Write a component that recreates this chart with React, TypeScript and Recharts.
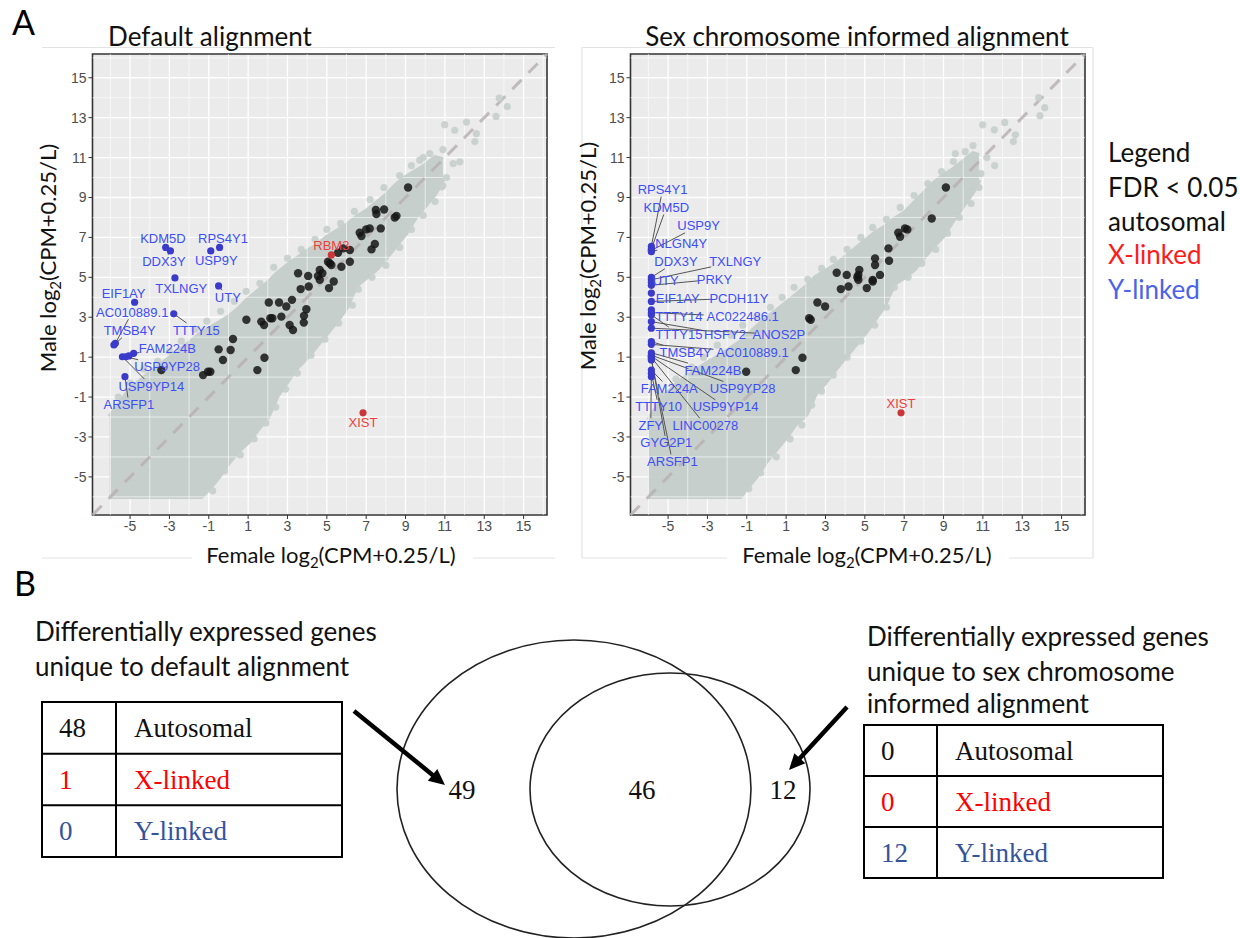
import React from 'react';
import { ComposedChart, Area, Scatter, XAxis, YAxis, CartesianGrid, ReferenceLine, ReferenceArea } from 'recharts';

// ---------- axes ----------
const DOMAIN: [number, number] = [-6.91, 16.19];
const majorTicks = [-5, -3, -1, 1, 3, 5, 7, 9, 11, 13, 15];
const minorTicks = [-6, -4, -2, 0, 2, 4, 6, 8, 10, 12, 14, 16];

// ---------- panel A left: default alignment ----------
const defaultCloudX = [-6.04, -5.5, -5.0, -4.5, -4.0, -3.0, -2.0, -1.38, -1.0, -0.5, 0.0, 0.5, 1.0, 1.5, 2.0, 2.5, 3.0, 3.5, 4.0, 4.5, 5.0, 5.5, 6.0, 6.5, 7.0, 7.5, 8.0, 8.5, 9.0, 9.5, 10.0, 10.5, 10.9];
const defaultCloudLow = [-5.98, -5.98, -5.98, -5.98, -5.98, -5.98, -5.98, -5.98, -5.6, -5.0, -4.3, -3.7, -3.25, -2.6, -2.0, -0.9, -0.2, 0.5, 1.0, 1.6, 2.2, 2.8, 3.5, 4.6, 5.0, 5.4, 5.95, 6.6, 7.2, 8.0, 8.6, 9.2, 9.9];
const defaultCloudHigh = [-2.0, -1.3, -0.6, -0.2, 0.2, 0.95, 1.7, 2.2, 2.4, 2.7, 3.0, 3.4, 3.9, 4.3, 4.7, 5.2, 5.6, 5.95, 6.3, 6.6, 7.0, 7.3, 7.6, 8.0, 8.3, 8.7, 9.1, 9.6, 10.0, 10.3, 10.6, 11.0, 10.9];
const defaultFringe: [number, number][] = [
  [-5.6, -1.0], [-5.0, -0.3], [-4.3, 0.4], [-3.6, 0.8], [-3.0, 1.3], [-2.4, 1.8], [-1.7, 2.4], [-1.1, 2.8], [-0.4, 3.3], [0.3, 3.8], [0.9, 4.3], [1.6, 4.7], [2.3, 5.5], [3.0, 5.95], [3.7, 6.4], [4.4, 6.9], [5.0, 7.4], [5.7, 7.7], [6.4, 8.3], [7.2, 8.9], [7.9, 9.5], [8.7, 10.1], [9.3, 10.6], [9.9, 11.0],
  [-0.8, -5.7], [-0.2, -4.7], [0.6, -3.9], [1.3, -3.1], [1.9, -2.3], [2.4, -1.5], [2.9, -0.6], [3.5, 0.2], [4.2, 1.1], [4.9, 1.9], [5.6, 2.7], [6.3, 3.6], [6.6, 4.4], [7.3, 5.0], [8.0, 5.6], [8.7, 6.5], [9.3, 7.4], [9.9, 8.1], [10.5, 8.8], [10.9, 9.6],
  [10.99, 12.65], [11.5, 12.37], [12.1, 12.78], [12.6, 12.2], [12.52, 11.8], [10.23, 11.2], [10.9, 11.4], [11.08, 10.0], [11.76, 10.78], [11.42, 10.7], [10.83, 9.53], [9.72, 10.87], [13.76, 13.98], [14.17, 13.56], [13.6, 13.06],
];
const defaultAutosomal: [number, number][] = [
  [9.13, 9.5], [7.49, 8.37], [7.91, 8.4], [7.52, 8.17], [8.45, 8.0], [8.54, 8.08], [6.67, 7.23], [7.0, 7.4], [7.18, 7.45], [7.74, 7.45], [6.76, 7.07], [6.17, 6.37], [5.83, 6.45], [5.57, 6.23], [5.15, 5.7], [5.06, 5.78], [5.23, 5.62], [4.64, 5.37], [4.77, 5.2], [4.55, 5.07], [5.74, 5.53], [6.17, 5.78], [7.44, 6.67], [7.27, 6.4], [3.54, 5.2], [4.05, 5.07],
  [3.67, 4.41], [4.08, 4.54], [4.64, 4.88], [5.35, 4.79], [5.11, 4.46], [2.05, 3.74], [2.57, 3.74], [3.23, 3.87], [2.94, 3.54], [0.91, 2.87], [1.67, 2.78], [1.81, 2.61], [2.13, 2.95], [2.23, 2.95], [2.69, 3.03], [3.11, 2.61], [3.28, 2.36], [3.84, 3.07], [3.96, 3.4], [3.83, 2.73], [0.23, 1.91], [-0.5, 1.39], [0.11, 1.36], [-0.28, 0.86], [1.83, 0.97], [1.47, 0.35], [-1.29, 0.1], [-1.04, 0.27], [-0.92, 0.27], [-3.41, 0.35],
];
const defaultXLinked = [
  { name: 'RBM3', x: 5.23, y: 6.12, lx: 5.23, ly: 6.57 },
  { name: 'XIST', x: 6.84, y: -1.79, lx: 6.84, ly: -2.29 },
];
const defaultYLinked = [
  { name: 'KDM5D', x: -3.19, y: 6.5, lx: -3.33, ly: 6.95 },
  { name: 'DDX3Y', x: -2.95, y: 6.32, lx: -3.28, ly: 5.78 },
  { name: 'RPS4Y1', x: -0.45, y: 6.5, lx: -0.28, ly: 6.95 },
  { name: 'USP9Y', x: -0.9, y: 6.32, lx: -0.62, ly: 5.83 },
  { name: 'TXLNGY', x: -2.72, y: 4.97, lx: -2.4, ly: 4.46 },
  { name: 'UTY', x: -0.5, y: 4.57, lx: -0.03, ly: 4.0 },
  { name: 'EIF1AY', x: -4.77, y: 3.75, lx: -5.33, ly: 4.17 },
  { name: 'AC010889.1', x: -5.75, y: 1.69, lx: -4.89, ly: 3.25 },
  { name: 'TTTY15', x: -2.78, y: 3.17, lx: -1.63, ly: 2.36 },
  { name: 'TMSB4Y', x: -5.82, y: 1.61, lx: -5.02, ly: 2.33 },
  { name: 'FAM224B', x: -4.82, y: 1.19, lx: -3.11, ly: 1.44 },
  { name: 'USP9YP28', x: -5.22, y: 1.02, lx: -3.12, ly: 0.52 },
  { name: 'USP9YP14', x: -5.39, y: 1.02, lx: -3.92, ly: -0.45 },
  { name: 'ARSFP1', x: -5.26, y: 0.02, lx: -5.06, ly: -1.37 },
  { name: '', x: -5.06, y: 1.06, lx: -5.06, ly: 1.06 },
];

// ---------- panel A right: sex chromosome informed ----------
const informedCloudX = [-5.99, -5.5, -5.0, -4.5, -4.0, -3.0, -2.0, -1.33, -1.0, -0.5, 0.0, 0.5, 1.0, 1.5, 2.0, 2.5, 3.0, 3.5, 4.0, 4.5, 5.0, 5.5, 6.0, 6.5, 7.0, 7.5, 8.0, 8.5, 9.0, 9.5, 10.0, 10.5, 10.8];
const informedCloudLow = [-5.98, -5.98, -5.98, -5.98, -5.98, -5.98, -5.98, -5.98, -5.55, -4.95, -4.2, -3.6, -3.0, -2.3, -1.9, -0.8, -0.25, 0.4, 1.0, 1.6, 2.2, 2.9, 3.6, 4.7, 5.0, 5.4, 6.0, 6.6, 7.1, 7.9, 8.6, 9.3, 9.9];
const informedCloudHigh = [-2.16, -1.4, -0.8, -0.3, 0.05, 0.7, 1.3, 1.75, 2.05, 2.5, 2.95, 3.3, 3.7, 4.1, 4.5, 5.0, 5.3, 5.6, 6.0, 6.4, 6.8, 7.2, 7.5, 7.9, 8.2, 8.7, 9.2, 9.7, 10.1, 10.4, 10.8, 11.2, 11.1];
const informedFringe: [number, number][] = [
  [-5.3, -0.9], [-4.6, -0.1], [-3.8, 0.5], [-3.2, 1.0], [-2.5, 1.6], [-1.8, 2.1], [-1.2, 2.6], [-0.5, 3.0], [0.2, 3.5], [0.8, 4.0], [1.4, 4.5], [2.1, 4.9], [2.8, 5.45], [3.4, 5.9], [4.1, 6.4], [4.8, 7.0], [5.4, 7.5], [6.1, 7.9], [6.8, 8.5], [7.5, 9.1], [8.2, 9.7], [8.9, 10.3], [9.5, 10.8], [10.1, 11.3],
  [-0.9, -5.6], [-0.3, -4.8], [0.5, -4.0], [1.2, -3.1], [1.8, -2.4], [2.3, -1.4], [2.8, -0.7], [3.4, 0.1], [4.1, 1.0], [4.8, 1.8], [5.5, 2.6], [6.1, 3.5], [6.5, 4.5], [7.2, 5.0], [7.9, 5.7], [8.6, 6.4], [9.2, 7.2], [9.8, 8.0], [10.4, 8.7], [10.8, 9.5],
  [10.99, 12.64], [11.58, 12.39], [12.11, 12.76], [12.65, 12.14], [12.55, 11.8], [13.83, 14.0], [14.14, 13.5], [13.9, 13.1], [10.5, 11.6], [11.2, 11.0], [10.9, 10.2], [11.6, 10.6], [10.2, 9.7], [9.6, 11.2],
];
const informedAutosomal: [number, number][] = [
  [9.12, 9.5], [8.4, 7.95], [7.04, 7.45], [7.16, 7.4], [6.7, 7.23], [6.79, 7.03], [6.2, 6.45], [6.23, 5.83], [5.52, 5.95], [5.52, 5.62], [5.77, 5.12], [4.72, 5.37], [4.67, 5.12], [4.62, 5.0], [4.08, 5.12], [3.57, 5.23], [5.4, 4.87],
  [3.78, 4.41], [4.17, 4.54], [4.67, 4.88], [5.4, 4.79], [5.1, 4.46], [2.59, 3.74], [2.98, 3.54], [2.17, 2.95], [2.25, 2.87], [1.83, 0.97], [1.49, 0.35], [-1.03, 0.27],
];
const informedXLinked = [
  { name: 'XIST', x: 6.84, y: -1.79, lx: 6.84, ly: -1.3 },
];
const informedYLinked = [
  { name: 'RPS4Y1', x: -5.85, y: 6.55, lx: -5.28, ly: 9.4 },
  { name: 'KDM5D', x: -5.85, y: 6.42, lx: -5.09, ly: 8.5 },
  { name: 'USP9Y', x: -5.85, y: 6.35, lx: -3.45, ly: 7.58 },
  { name: 'NLGN4Y', x: -5.85, y: 6.28, lx: -4.33, ly: 6.7 },
  { name: 'DDX3Y', x: -5.85, y: 5.0, lx: -4.6, ly: 5.78 },
  { name: 'TXLNGY', x: -5.85, y: 4.88, lx: -1.59, ly: 5.78 },
  { name: 'UTY', x: -5.85, y: 4.75, lx: -5.12, ly: 4.85 },
  { name: 'PRKY', x: -5.85, y: 4.6, lx: -2.64, ly: 4.9 },
  { name: 'EIF1AY', x: -5.85, y: 4.21, lx: -4.51, ly: 3.95 },
  { name: 'PCDH11Y', x: -5.85, y: 3.79, lx: -1.4, ly: 3.95 },
  { name: 'TTTY14', x: -5.85, y: 3.37, lx: -4.45, ly: 3.03 },
  { name: 'AC022486.1', x: -5.85, y: 3.23, lx: -1.21, ly: 3.03 },
  { name: 'TTTY15', x: -5.85, y: 3.12, lx: -4.45, ly: 2.15 },
  { name: 'HSFY2', x: -5.85, y: 2.78, lx: -2.11, ly: 2.15 },
  { name: 'ANOS2P', x: -5.85, y: 2.45, lx: 0.63, ly: 2.15 },
  { name: 'TMSB4Y', x: -5.85, y: 1.78, lx: -4.11, ly: 1.24 },
  { name: 'AC010889.1', x: -5.85, y: 1.64, lx: -0.71, ly: 1.24 },
  { name: 'FAM224B', x: -5.85, y: 1.22, lx: -2.72, ly: 0.35 },
  { name: 'FAM224A', x: -5.85, y: 0.35, lx: -4.94, ly: -0.57 },
  { name: 'USP9YP28', x: -5.85, y: 1.1, lx: -1.21, ly: -0.57 },
  { name: 'TTTY10', x: -5.85, y: 0.19, lx: -5.48, ly: -1.49 },
  { name: 'USP9YP14', x: -5.85, y: 1.05, lx: -2.08, ly: -1.49 },
  { name: 'ZFY', x: -5.85, y: 0.02, lx: -5.88, ly: -2.41 },
  { name: 'LINC00278', x: -5.85, y: 0.99, lx: -3.11, ly: -2.41 },
  { name: 'GYG2P1', x: -5.85, y: 0.92, lx: -5.09, ly: -3.3 },
  { name: 'ARSFP1', x: -5.85, y: 0.86, lx: -4.78, ly: -4.22 },
];

// ---------- legend ----------
const legendLines = ['Legend', 'FDR < 0.05', 'autosomal', 'X-linked', 'Y-linked'];
const legendColors = ['#111', '#111', '#111', '#ff1a1a', '#4a63e8'];

// ---------- panel B ----------
const vennCounts = [49, 46, 12];
const tableCategories = ['Autosomal', 'X-linked', 'Y-linked'];
const defaultUniqueCounts = [48, 1, 0];
const informedUniqueCounts = [0, 0, 12];
const tableColors = ['#111', '#ff0000', '#34539b'];

// ---------- styling ----------
const SANS = 'Lato, "Open Sans", sans-serif';
const LABEL_FONT = '"Liberation Sans", Arial, sans-serif';
const SERIF = '"Liberation Serif", "Times New Roman", serif';
const CLOUD = '#c6cfcc';
const PX = 19.7;
const PY = 19.95;

type Gene = { name: string; x: number; y: number; lx: number; ly: number };

function segmentFor(g: Gene) {
  if (!g.name) return null;
  const hw = g.name.length * 3.75 + 1.5;
  const hh = 7;
  const vx = (g.x - g.lx) * PX;
  const vy = (g.y - g.ly) * PY;
  const tx = vx === 0 ? Infinity : hw / Math.abs(vx);
  const ty = vy === 0 ? Infinity : hh / Math.abs(vy);
  const t = Math.min(tx, ty);
  if (t >= 0.85) return null;
  return [
    { x: g.lx + (vx * t) / PX, y: g.ly + (vy * t) / PY },
    { x: g.x, y: g.y },
  ];
}

const dot = (r: number, fill: string, opacity = 1) => (p: any) =>
  p.cx == null ? <g /> : <circle cx={p.cx} cy={p.cy} r={r} fill={fill} fillOpacity={opacity} />;

const labelShape = (color: string) => (p: any) =>
  p.cx == null || !p.payload.name ? <g /> : (
    <text x={p.cx} y={p.cy} textAnchor="middle" dominantBaseline="central" fontFamily={LABEL_FONT} fontSize={13} fill={color}>
      {p.payload.name}
    </text>
  );

function Panel(props: {
  cloudX: number[]; cloudLow: number[]; cloudHigh: number[];
  fringe: [number, number][]; autosomal: [number, number][];
  xLinked: Gene[]; yLinked: Gene[];
  width: number; marginLeft: number; marginRight: number;
}) {
  const cloud = props.cloudX.map((x, i) => ({ x, range: [props.cloudLow[i], props.cloudHigh[i]] }));
  const fringe = props.fringe.map(([x, y]) => ({ x, y }));
  const auto = props.autosomal.map(([x, y]) => ({ x, y }));
  const yLabels = props.yLinked.map((g) => ({ x: g.lx, y: g.ly, name: g.name }));
  const xLabels = props.xLinked.map((g) => ({ x: g.lx, y: g.ly, name: g.name }));
  const segs = [...props.yLinked, ...props.xLinked].map(segmentFor).filter(Boolean) as any[];
  return (
    <ComposedChart
      width={props.width}
      height={560}
      data={cloud}
      margin={{ top: 54, right: props.marginRight, bottom: 15, left: props.marginLeft }}
    >
      <CartesianGrid fill="#ebebeb" stroke="#ffffff" strokeWidth={1.3} />
      <XAxis
        type="number" dataKey="x" domain={DOMAIN} ticks={majorTicks} allowDataOverflow
        height={30} axisLine={false} tickLine={{ stroke: '#333' }} tickSize={4}
        tick={{ fill: '#4d4d4d', fontSize: 14, fontFamily: LABEL_FONT }} interval={0}
      />
      <YAxis
        type="number" dataKey="y" domain={DOMAIN} ticks={majorTicks} allowDataOverflow
        width={40} axisLine={false} tickLine={{ stroke: '#333' }} tickSize={4}
        tick={{ fill: '#4d4d4d', fontSize: 14, fontFamily: LABEL_FONT }} interval={0}
      />
      {minorTicks.map((v) => (
        <ReferenceLine key={'mx' + v} x={v} stroke="#ffffff" strokeWidth={0.6} />
      ))}
      {minorTicks.map((v) => (
        <ReferenceLine key={'my' + v} y={v} stroke="#ffffff" strokeWidth={0.6} />
      ))}
      <Area type="linear" dataKey="range" stroke={CLOUD} strokeWidth={5} strokeLinejoin="round" fill={CLOUD} fillOpacity={1} isAnimationActive={false} dot={false} activeDot={false} />
      <Scatter data={fringe} shape={dot(3.6, CLOUD, 0.9)} isAnimationActive={false} />
      <ReferenceLine
        segment={[{ x: DOMAIN[0], y: DOMAIN[0] }, { x: DOMAIN[1], y: DOMAIN[1] }]}
        stroke="#b8b2b2" strokeOpacity={0.85} strokeWidth={3} strokeDasharray="13 10"
      />
      {segs.map((s, i) => (
        <ReferenceLine key={'s' + i} segment={s} stroke="#555" strokeWidth={1} />
      ))}
      <Scatter data={auto} shape={dot(4.2, '#151515', 0.85)} isAnimationActive={false} />
      <Scatter data={props.xLinked} shape={dot(3.6, '#c9373a')} isAnimationActive={false} />
      <Scatter data={props.yLinked} shape={dot(3.6, '#3a3acb')} isAnimationActive={false} />
      <Scatter data={yLabels} shape={labelShape('#3d4ef7')} isAnimationActive={false} />
      <Scatter data={xLabels} shape={labelShape('#f23d3d')} isAnimationActive={false} />
      <ReferenceArea x1={DOMAIN[0]} x2={DOMAIN[1]} y1={DOMAIN[0]} y2={DOMAIN[1]} fill="none" fillOpacity={0} stroke="#333" strokeWidth={1.6} />
    </ComposedChart>
  );
}

function Arrow({ x1, y1, x2, y2 }: { x1: number; y1: number; x2: number; y2: number }) {
  const len = Math.hypot(x2 - x1, y2 - y1);
  const ux = (x2 - x1) / len;
  const uy = (y2 - y1) / len;
  const headLen = 16;
  const headHalf = 7.5;
  const bx = x2 - ux * headLen;
  const by = y2 - uy * headLen;
  const pts = `${x2},${y2} ${bx - uy * headHalf},${by + ux * headHalf} ${bx + uy * headHalf},${by - ux * headHalf}`;
  return (
    <g>
      <line x1={x1} y1={y1} x2={bx + ux * 2} y2={by + uy * 2} stroke="#000" strokeWidth={4.5} />
      <polygon points={pts} fill="#000" />
    </g>
  );
}

export default function App() {
  const abs = (l: number, t: number): React.CSSProperties => ({ position: 'absolute', left: l, top: t });
  return (
    <div style={{ position: 'absolute', left: 0, top: 0, width: 1240, height: 938, background: '#fff', overflow: 'hidden' }}>
      <div style={abs(0, 0)}>
        <Panel
          cloudX={defaultCloudX} cloudLow={defaultCloudLow} cloudHigh={defaultCloudHigh}
          fringe={defaultFringe} autosomal={defaultAutosomal}
          xLinked={defaultXLinked} yLinked={defaultYLinked}
          width={560} marginLeft={52.5} marginRight={13}
        />
      </div>
      <div style={abs(580, 0)}>
        <Panel
          cloudX={informedCloudX} cloudLow={informedCloudLow} cloudHigh={informedCloudHigh}
          fringe={informedFringe} autosomal={informedAutosomal}
          xLinked={informedXLinked} yLinked={informedYLinked}
          width={520} marginLeft={10.5} marginRight={15}
        />
      </div>
      <svg width={1240} height={938} style={{ position: 'absolute', left: 0, top: 0, pointerEvents: 'none' }}>
        {/* frames */}
        <g stroke="#e3e3e3" strokeWidth={1.2} fill="none">
          <line x1={42} y1={47.5} x2={555} y2={47.5} />
          <line x1={42} y1={558} x2={192} y2={558} />
          <line x1={473} y1={558} x2={555} y2={558} />
          <line x1={582} y1={47.5} x2={1093} y2={47.5} />
          <line x1={582} y1={47.5} x2={582} y2={558} />
          <line x1={1093} y1={47.5} x2={1093} y2={558} />
          <line x1={582} y1={558} x2={727} y2={558} />
          <line x1={1009} y1={558} x2={1093} y2={558} />
        </g>
        {/* panel letters */}
        <text x={12} y={35} fontFamily={SANS} fontSize={34} fill="#000">A</text>
        <text x={14} y={596} fontFamily={SANS} fontSize={34} fill="#000">B</text>
        {/* titles */}
        <text x={210} y={46} textAnchor="middle" fontFamily={SANS} fontSize={26} fill="#111">Default alignment</text>
        <text x={857} y={46} textAnchor="middle" fontFamily={SANS} fontSize={26} fill="#111">Sex chromosome informed alignment</text>
        {/* axis titles */}
        {[331, 867].map((cx) => (
          <text key={'xt' + cx} x={cx} y={563} textAnchor="middle" fontFamily={SANS} fontSize={22} fill="#111">
            Female log<tspan fontSize={15} dy={5}>2</tspan><tspan dy={-5}>(CPM+0.25/L)</tspan>
          </text>
        ))}
        {[[56, 258], [596, 256]].map(([cx, cy]) => (
          <text key={'yt' + cx} x={0} y={0} transform={`translate(${cx},${cy}) rotate(-90)`} textAnchor="middle" fontFamily={SANS} fontSize={22} fill="#111">
            Male log<tspan fontSize={15} dy={5}>2</tspan><tspan dy={-5}>(CPM+0.25/L)</tspan>
          </text>
        ))}
        {/* legend */}
        {legendLines.map((t, i) => (
          <text key={t} x={1108} y={[162, 197, 231, 264, 299][i]} fontFamily={SANS} fontSize={26} fill={legendColors[i]}>{t}</text>
        ))}
        {/* headings B */}
        <text x={35} y={641} fontFamily={SANS} fontSize={26} fill="#111">Differentially expressed genes</text>
        <text x={35} y={676} fontFamily={SANS} fontSize={26} fill="#111">unique to default alignment</text>
        <text x={867} y={646} fontFamily={SANS} fontSize={26} fill="#111">Differentially expressed genes</text>
        <text x={867} y={681} fontFamily={SANS} fontSize={26} fill="#111">unique to sex chromosome</text>
        <text x={867} y={713} fontFamily={SANS} fontSize={26} fill="#111">informed alignment</text>
        {/* tables */}
        {[
          { x0: 42, x1: 342, xd: 116, y0: 702, y1: 857, nx: 59, tx: 134, counts: defaultUniqueCounts },
          { x0: 864, x1: 1163, xd: 937, y0: 725, y1: 878, nx: 881, tx: 955, counts: informedUniqueCounts },
        ].map((tb, k) => {
          const rh = (tb.y1 - tb.y0) / 3;
          return (
            <g key={'tb' + k}>
              <rect x={tb.x0} y={tb.y0} width={tb.x1 - tb.x0} height={tb.y1 - tb.y0} fill="none" stroke="#000" strokeWidth={2} />
              <line x1={tb.xd} y1={tb.y0} x2={tb.xd} y2={tb.y1} stroke="#000" strokeWidth={2} />
              <line x1={tb.x0} y1={tb.y0 + rh} x2={tb.x1} y2={tb.y0 + rh} stroke="#000" strokeWidth={2} />
              <line x1={tb.x0} y1={tb.y0 + 2 * rh} x2={tb.x1} y2={tb.y0 + 2 * rh} stroke="#000" strokeWidth={2} />
              {tableCategories.map((c, i) => (
                <g key={c}>
                  <text x={tb.nx} y={tb.y0 + rh * i + rh / 2 + 9} fontFamily={SERIF} fontSize={27} fill={tableColors[i]}>{tb.counts[i]}</text>
                  <text x={tb.tx} y={tb.y0 + rh * i + rh / 2 + 9} fontFamily={SERIF} fontSize={27} fill={tableColors[i]}>{c}</text>
                </g>
              ))}
            </g>
          );
        })}
        {/* venn */}
        <ellipse cx={574} cy={789} rx={177} ry={149} fill="none" stroke="#222" strokeWidth={1.6} />
        <ellipse cx={670} cy={789.5} rx={140} ry={116.5} fill="none" stroke="#222" strokeWidth={1.6} />
        <text x={462} y={799} textAnchor="middle" fontFamily={SERIF} fontSize={27} fill="#111">{vennCounts[0]}</text>
        <text x={642} y={799} textAnchor="middle" fontFamily={SERIF} fontSize={27} fill="#111">{vennCounts[1]}</text>
        <text x={783} y={799} textAnchor="middle" fontFamily={SERIF} fontSize={27} fill="#111">{vennCounts[2]}</text>
        {/* arrows */}
        <Arrow x1={354} y1={711} x2={445} y2={785} />
        <Arrow x1={847} y1={707} x2={789} y2={770} />
      </svg>
    </div>
  );
}
